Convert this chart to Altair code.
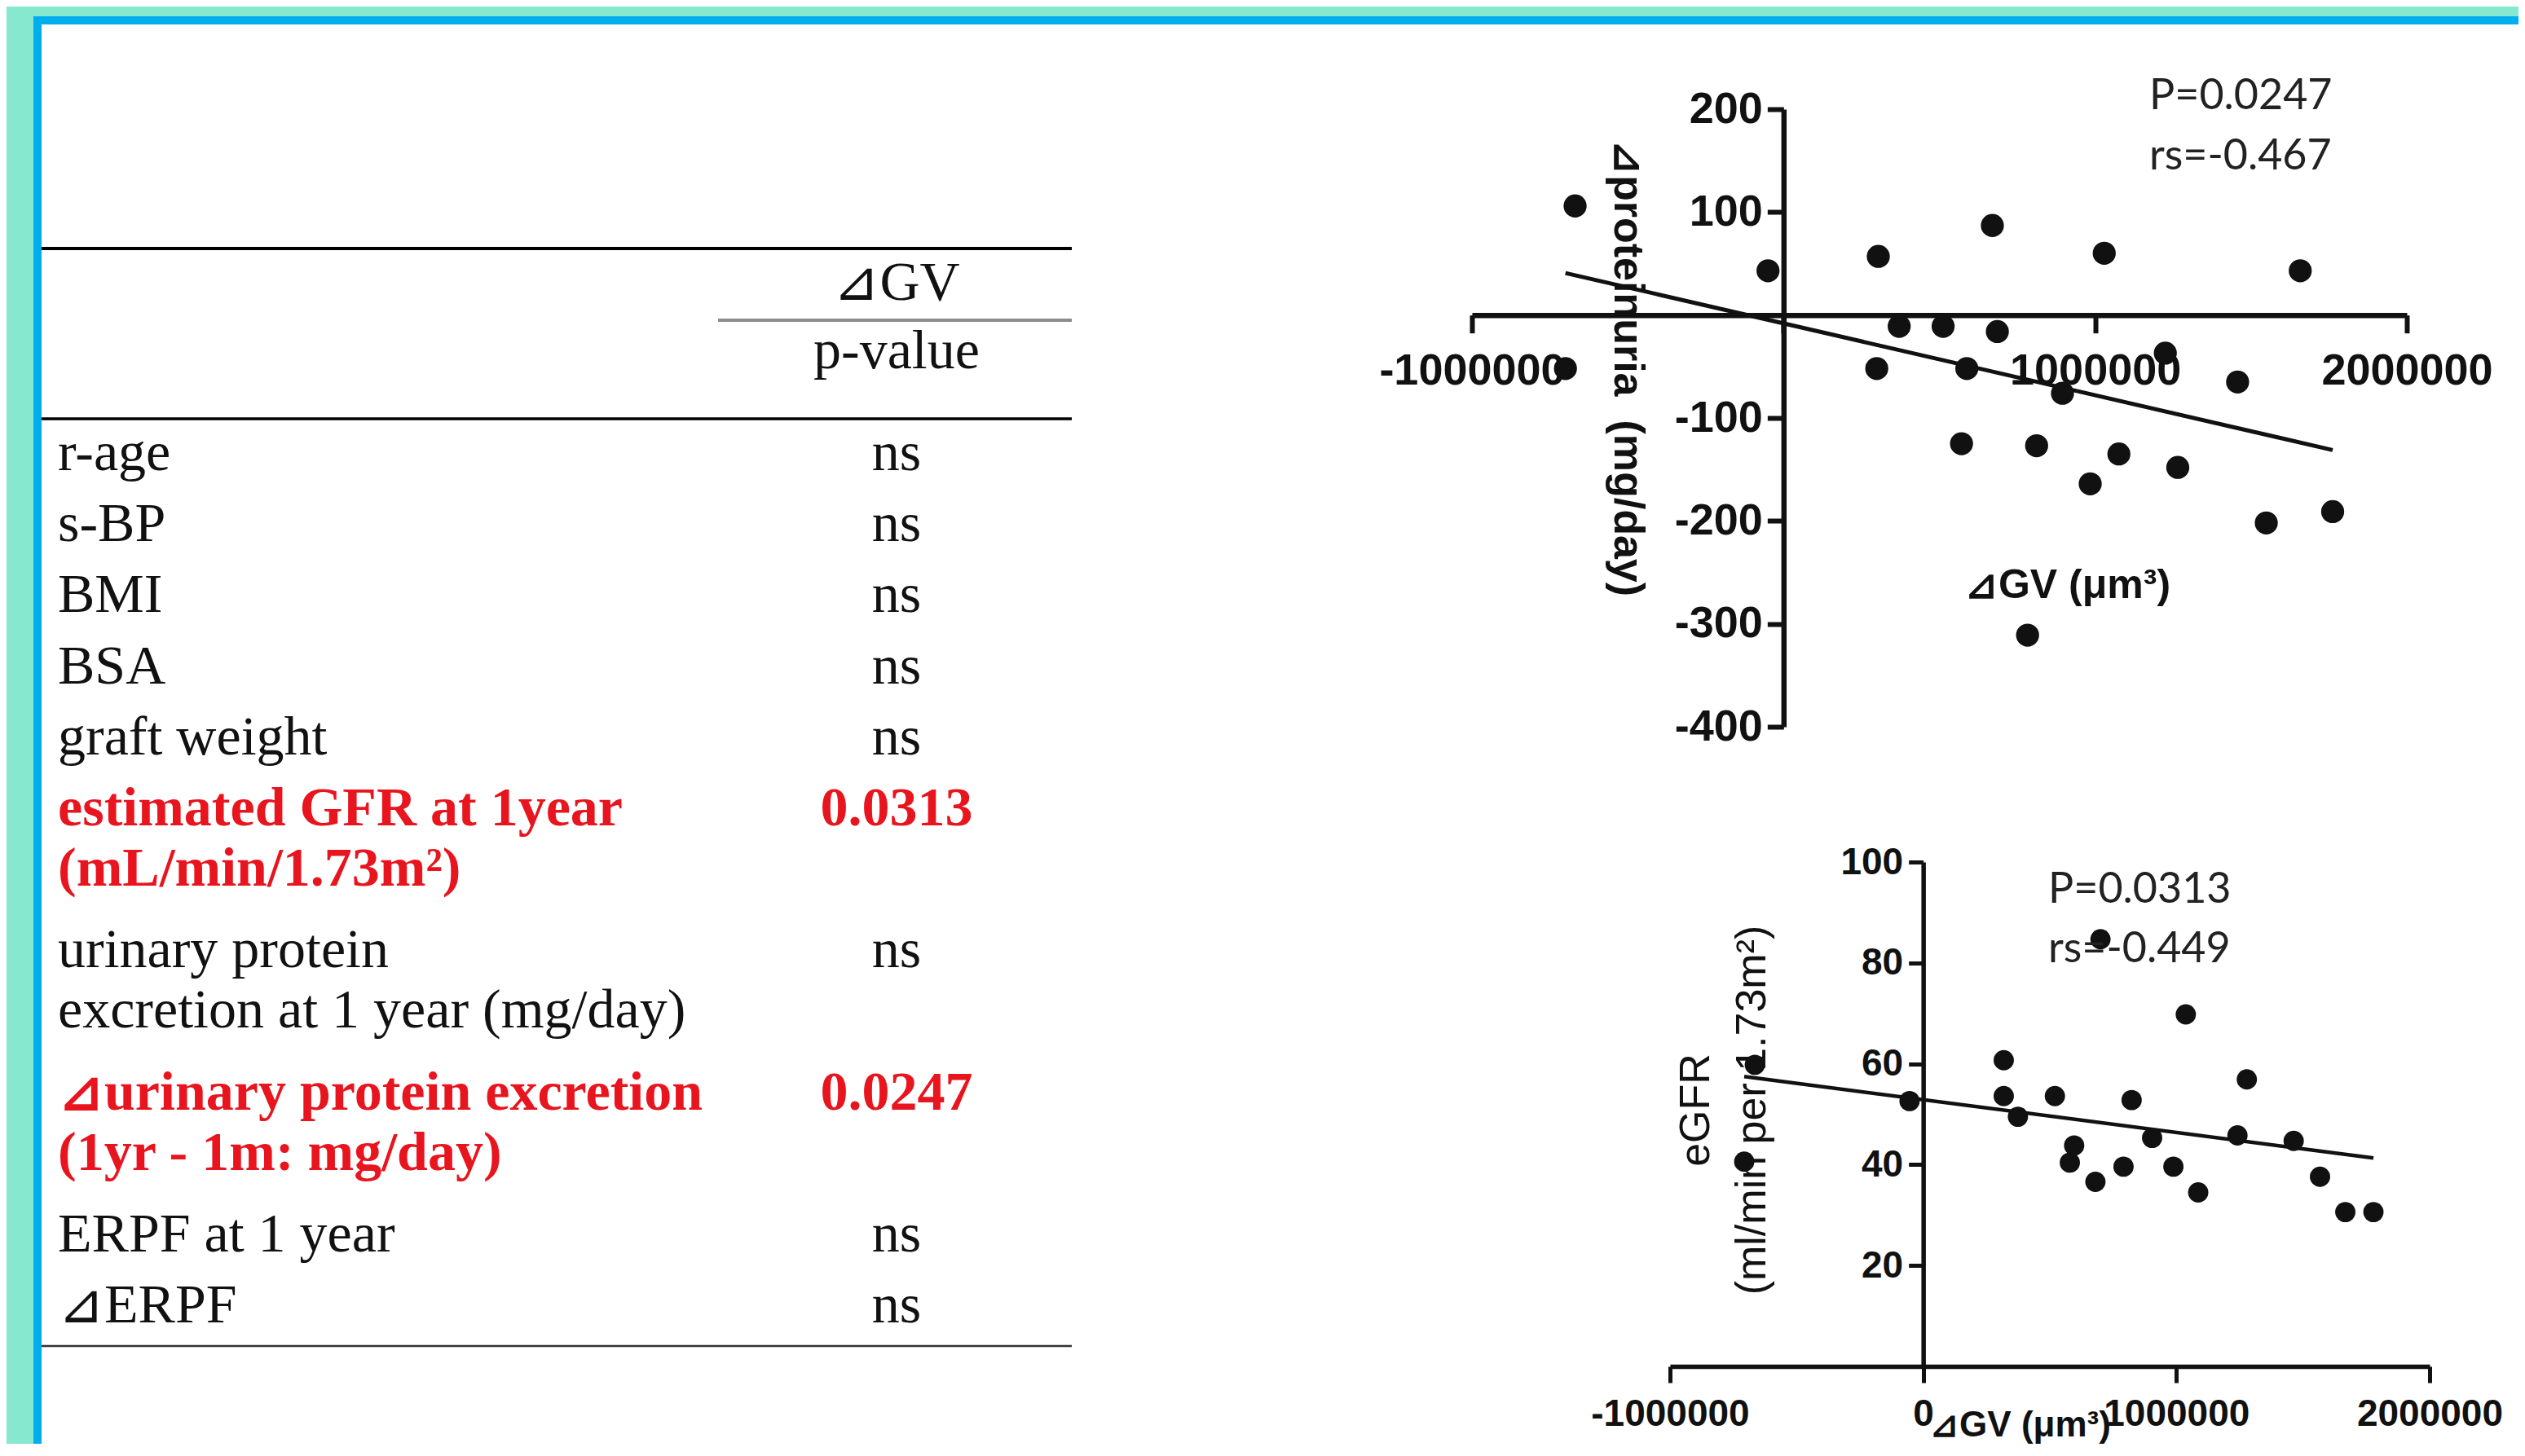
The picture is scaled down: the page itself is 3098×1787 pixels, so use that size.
import altair as alt
import pandas as pd

# ---------------- table content ----------------
row_labels = [
    "r-age", "s-BP", "BMI", "BSA", "graft weight",
    "estimated GFR at 1year\n(mL/min/1.73m²)",
    "urinary protein\nexcretion at 1 year (mg/day)",
    "⊿urinary protein excretion\n(1yr - 1m: mg/day)",
    "ERPF at 1 year", "⊿ERPF",
]
row_pvalues = ["ns", "ns", "ns", "ns", "ns", "0.0313", "ns", "0.0247", "ns", "ns"]
header_group = ["⊿GV"]
header_stat = ["p-value"]

# ---------------- scatter 1: delta proteinuria vs delta GV ----------------
prot_dgv = [-669000, -700000, -50000, 304000, 299000, 371000, 512000, 670000, 686000,
            588000, 571000, 812000, 895000, 984000, 1029000, 1076000, 1225000, 1265000,
            1457000, 1549000, 1658000, 1762000, 783000]
prot_delta = [106, -52, 43, 57, -52, -11, -11, 87, -16, -52, -125, -127, -76, -164, 60,
              -135, -37, -148, -65, -202, 43, -191, -311]
prot_stats = ["P=0.0247\nrs=-0.467"]

# ---------------- scatter 2: eGFR vs delta GV ----------------
egfr_dgv = [-665000, -707000, -54000, 318000, 318000, 374000, 520000, 596000, 579000,
            680000, 700000, 791000, 823000, 904000, 988000, 1037000, 1086000, 1241000,
            1278000, 1463000, 1567000, 1667000, 1778000]
egfr_val = [59.8, 40.6, 52.6, 60.7, 53.6, 49.5, 53.6, 43.8, 40.4, 36.6, 84.7, 39.6, 52.8,
            45.3, 39.6, 69.8, 34.5, 45.8, 56.9, 44.7, 37.6, 30.6, 30.6]
egfr_stats = ["P=0.0313\nrs=-0.449"]

# ---------------- layout constants ----------------
W, H = 3082, 1764
TEAL = "#86E8CF"
BLUE = "#00AEEF"
RED = "#E8141E"
INK = "#111111"

line_counts = [lab.count("\n") + 1 for lab in row_labels]
starts = [sum(line_counts[:i]) for i in range(len(row_labels))]
table = pd.DataFrame({
    "label": row_labels,
    "p": row_pvalues,
    "line": starts,
    "sig": [p != "ns" for p in row_pvalues],
})

one = alt.InlineData(values=[{"k": 0}])

# background / frame
bg = alt.Chart(one).mark_rect(color="white").encode(
    x=alt.value(43), x2=alt.value(W), y=alt.value(22), y2=alt.value(H))
top_blue = alt.Chart(one).mark_rule(color=BLUE, strokeWidth=10).encode(
    x=alt.value(33), x2=alt.value(W), y=alt.value(17))
left_blue = alt.Chart(one).mark_rule(color=BLUE, strokeWidth=10).encode(
    x=alt.value(38), y=alt.value(12), y2=alt.value(H))


def hrule(x1, x2, y, width, color):
    return alt.Chart(one).mark_rule(color=color, strokeWidth=width).encode(
        x=alt.value(x1), x2=alt.value(x2), y=alt.value(y))


rules = [
    hrule(43, 1307, 297, 4, "#000000"),
    hrule(873, 1307, 385, 4, "#8C8C8C"),
    hrule(43, 1307, 506, 3.5, "#000000"),
    hrule(43, 1307, 1644, 2.5, "#333333"),
]

TFONT = "Liberation Serif"
TSIZE = 68
ty = alt.Y("line:Q", scale=alt.Scale(domain=[0, 12], range=[569, 569 + 12 * 87.2]), axis=None)

lab_norm = alt.Chart(table).transform_filter("!datum.sig").mark_text(
    align="left", baseline="alphabetic", font=TFONT, fontSize=TSIZE,
    lineBreak="\n", lineHeight=74, color=INK).encode(x=alt.value(63), y=ty, text="label:N")
lab_sig = alt.Chart(table).transform_filter("datum.sig").mark_text(
    align="left", baseline="alphabetic", font=TFONT, fontSize=TSIZE, fontWeight="bold",
    lineBreak="\n", lineHeight=74, color=RED).encode(x=alt.value(63), y=ty, text="label:N")
val_norm = alt.Chart(table).transform_filter("!datum.sig").mark_text(
    align="center", baseline="alphabetic", font=TFONT, fontSize=TSIZE,
    color=INK).encode(x=alt.value(1092), y=ty, text="p:N")
val_sig = alt.Chart(table).transform_filter("datum.sig").mark_text(
    align="center", baseline="alphabetic", font=TFONT, fontSize=TSIZE, fontWeight="bold",
    color=RED).encode(x=alt.value(1092), y=ty, text="p:N")

head1 = alt.Chart(pd.DataFrame({"t": header_group})).mark_text(
    align="center", baseline="alphabetic", font=TFONT, fontSize=TSIZE, color=INK).encode(
    x=alt.value(1092), y=alt.value(360), text="t:N")
head2 = alt.Chart(pd.DataFrame({"t": header_stat})).mark_text(
    align="center", baseline="alphabetic", font=TFONT, fontSize=TSIZE, color=INK).encode(
    x=alt.value(1092), y=alt.value(444), text="t:N")

# ---------------- scatter 1 ----------------
df1 = pd.DataFrame({"dgv": prot_dgv, "dprot": prot_delta})
X1 = [1798, 2945]
Y1 = [884, 126]
px0_1 = X1[0] + (X1[1] - X1[0]) / 3.0
py0_1 = Y1[0] - (Y1[0] - Y1[1]) * 400 / 600.0
x1s = alt.Scale(domain=[-1000000, 2000000], range=X1, nice=False, zero=False)
y1s = alt.Scale(domain=[-400, 200], range=Y1, nice=False, zero=False)

ax1x = alt.Axis(orient="bottom", offset=py0_1 - H, values=[-1000000, 0, 1000000, 2000000],
                labelExpr="datum.value == 0 ? '' : '' + datum.value", labelFontSize=54,
                labelLimit=1000, tickSize=22, labelPadding=20, domainWidth=6.5, tickWidth=6,
                labelFlush=False, labelOverlap=False, zindex=2,
                title="⊿GV (μm³)", titleX=2528, titleY=332, titleAngle=0,
                titleAlign="center", titleBaseline="middle", titleFontSize=50)
ax1y = alt.Axis(orient="left", offset=-px0_1, values=[-400, -300, -200, -100, 100, 200],
                labelExpr="'' + datum.value", labelFontSize=54, labelLimit=1000,
                tickSize=20, labelPadding=6, domainWidth=6.5, tickWidth=6,
                labelFlush=False, labelOverlap=False, zindex=2,
                title="⊿proteinuria \u00a0(mg/day)", titleX=1989 - px0_1, titleY=443,
                titleAngle=90, titleAlign="center", titleBaseline="middle", titleFontSize=52)

pts1 = alt.Chart(df1).mark_circle(size=800, color=INK, opacity=1).encode(
    x=alt.X("dgv:Q", scale=x1s, axis=ax1x), y=alt.Y("dprot:Q", scale=y1s, axis=ax1y))
reg1 = alt.Chart(df1).transform_regression("dgv", "dprot").mark_line(
    color=INK, strokeWidth=5).encode(
    x=alt.X("dgv:Q", scale=x1s, axis=None), y=alt.Y("dprot:Q", scale=y1s, axis=None))
ann1 = alt.Chart(pd.DataFrame({"t": prot_stats})).mark_text(
    align="left", baseline="alphabetic", font="Lato", fontSize=52, lineBreak="\n",
    lineHeight=74, color="#222222").encode(x=alt.value(2629), y=alt.value(126), text="t:N")

# ---------------- scatter 2 ----------------
df2 = pd.DataFrame({"dgv": egfr_dgv, "egfr": egfr_val})
X2 = [2041, 2973]
Y2 = [1669, 1050]
px0_2 = X2[0] + (X2[1] - X2[0]) / 3.0
x2s = alt.Scale(domain=[-1000000, 2000000], range=X2, nice=False, zero=False)
y2s = alt.Scale(domain=[0, 100], range=Y2, nice=False, zero=False)

ax2x = alt.Axis(orient="bottom", offset=Y2[0] - H, values=[-1000000, 0, 1000000, 2000000],
                labelExpr="'' + datum.value", labelFontSize=46, labelLimit=1000,
                tickSize=20, labelPadding=16, domainWidth=5.5, tickWidth=5,
                labelFlush=False, labelOverlap=False, zindex=2,
                title="⊿GV (μm³)", titleX=2470, titleY=72, titleAngle=0,
                titleAlign="center", titleBaseline="middle", titleFontSize=44)
ax2y = alt.Axis(orient="left", offset=-px0_2, values=[20, 40, 60, 80, 100],
                labelExpr="'' + datum.value", labelFontSize=46, labelLimit=1000,
                tickSize=18, labelPadding=7, domainWidth=5.5, tickWidth=5,
                labelFlush=False, labelOverlap=False, zindex=2,
                title=["eGFR", "(ml/min per 1.73m²)"], titleX=2072 - px0_2, titleY=1354,
                titleAngle=-90, titleAlign="center", titleBaseline="middle",
                titleFontSize=52, titleFontWeight="normal", titleLineHeight=69)

pts2 = alt.Chart(df2).mark_circle(size=620, color=INK, opacity=1).encode(
    x=alt.X("dgv:Q", scale=x2s, axis=ax2x), y=alt.Y("egfr:Q", scale=y2s, axis=ax2y))
reg2 = alt.Chart(df2).transform_regression("dgv", "egfr").mark_line(
    color=INK, strokeWidth=4.5).encode(
    x=alt.X("dgv:Q", scale=x2s, axis=None), y=alt.Y("egfr:Q", scale=y2s, axis=None))
ann2 = alt.Chart(pd.DataFrame({"t": egfr_stats})).mark_text(
    align="left", baseline="alphabetic", font="Lato", fontSize=52, lineBreak="\n",
    lineHeight=73, color="#222222").encode(x=alt.value(2505), y=alt.value(1100), text="t:N")

chart = alt.layer(
    bg, top_blue, left_blue, *rules,
    lab_norm, lab_sig, val_norm, val_sig, head1, head2,
    reg1, pts1, ann1,
    reg2, pts2, ann2,
).resolve_scale(x="independent", y="independent").resolve_axis(
    x="independent", y="independent"
).properties(
    width=W, height=H, padding=0,
    autosize=alt.AutoSizeParams(type="none"),
    background=TEAL,
).configure_view(stroke=None).configure_axis(
    grid=False, labelFont="Liberation Sans", labelFontWeight="bold", labelColor=INK,
    domainColor=INK, tickColor=INK, titleFont="Liberation Sans", titleColor=INK,
    titleFontWeight="bold",
)

chart.save("out.html", embed_options={"renderer": "svg", "actions": False})
